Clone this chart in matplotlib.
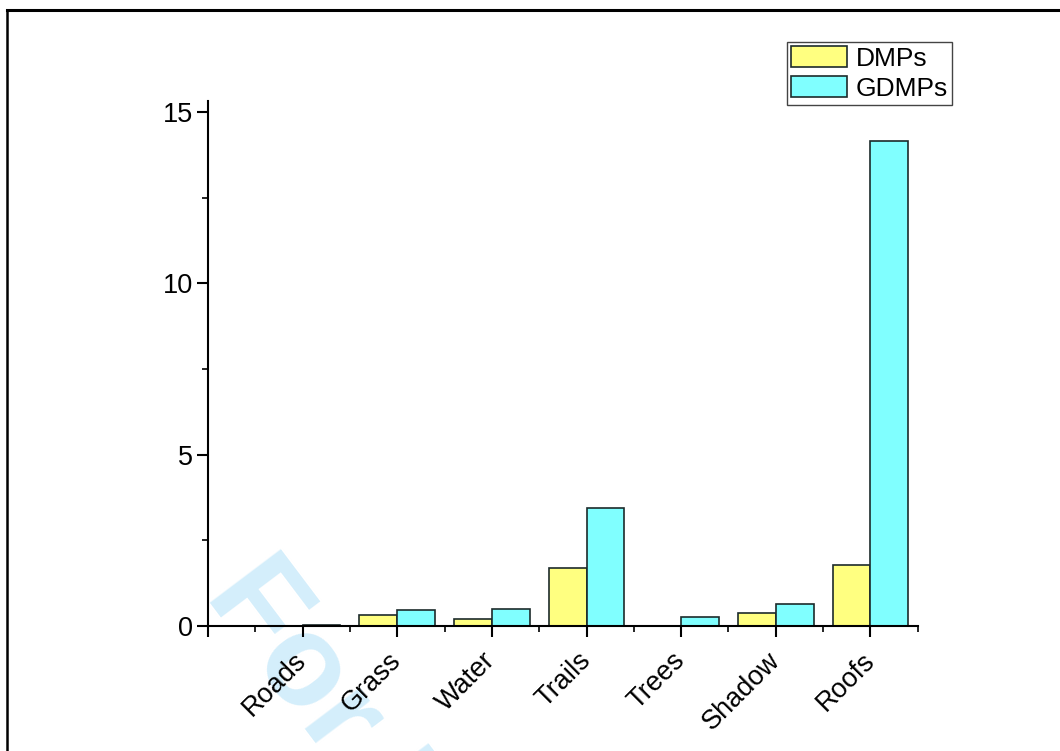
import matplotlib
matplotlib.use("Agg")
import matplotlib.pyplot as plt
from matplotlib.lines import Line2D
from matplotlib.ticker import MultipleLocator, FixedLocator
import numpy as np

plt.rcParams['font.family'] = ['Liberation Sans', 'DejaVu Sans']

classes = ["Roads", "Grass", "Water", "Trails", "Trees", "Shadow", "Roofs"]
dmps = [0.0, 0.31, 0.21, 1.68, 0.0, 0.38, 1.79]
gdmps = [0.03, 0.47, 0.50, 3.44, 0.27, 0.65, 14.16]

fig = plt.figure(figsize=(10.6, 7.51), dpi=100)
ax = fig.add_axes([0.1962, 0.1664, 0.6696, 0.6995])
ax.patch.set_alpha(0)

# page watermark behind everything
fig.text(204 / 1060, 1 - 595 / 751, "For Peer Review", fontsize=93, fontweight='bold',
         color='#d4eefb', rotation=-53, rotation_mode='anchor',
         ha='left', va='baseline', zorder=-5)

# page frame: top and left edges
fig.add_artist(Line2D([7 / 1060, 1], [1 - 10 / 751, 1 - 10 / 751], color='black', lw=2.2,
                      transform=fig.transFigure))
fig.add_artist(Line2D([7 / 1060, 7 / 1060], [0, 1 - 10 / 751], color='black', lw=1.8,
                      transform=fig.transFigure))

x = np.arange(len(classes))
w = 0.4
edge = '#1c2b2b'
ax.bar(x - w, dmps, width=w, align='edge', color='#ffff80', edgecolor=edge, lw=1.2, label='DMPs')
ax.bar(x, gdmps, width=w, align='edge', color='#80ffff', edgecolor=edge, lw=1.2, label='GDMPs')

ax.set_xlim(-1, 6.5)
ax.set_ylim(0, 15.33)
for s in ['top', 'right']:
    ax.spines[s].set_visible(False)
for s in ['left', 'bottom']:
    ax.spines[s].set_linewidth(1.5)

ax.xaxis.set_major_locator(FixedLocator(np.arange(-1, 7)))
ax.xaxis.set_minor_locator(FixedLocator(np.arange(-0.5, 7, 1)))
ax.set_xticklabels([""] + classes)
ax.yaxis.set_major_locator(MultipleLocator(5))
ax.yaxis.set_minor_locator(MultipleLocator(2.5))
ax.tick_params(which='major', direction='out', length=8, width=1.5, labelsize=19.5)
ax.tick_params(which='minor', direction='out', length=4, width=1.2)
ax.tick_params(axis='y', pad=3)
ax.tick_params(axis='x', pad=14)
for lab in ax.get_xticklabels():
    lab.set_rotation(45)
    lab.set_ha('right')
    lab.set_va('center')
    lab.set_rotation_mode('anchor')

leg = ax.legend(loc='upper right', bbox_to_anchor=(952 / 1060, 1 - 42 / 751),
                bbox_transform=fig.transFigure, fontsize=19, fancybox=False,
                framealpha=1, edgecolor='#444444', handlelength=2.1, handleheight=0.85,
                labelspacing=0.2, handletextpad=0.35, borderpad=0.15, borderaxespad=0)
leg.get_frame().set_linewidth(1.0)

fig.savefig("out.png", dpi=100)
